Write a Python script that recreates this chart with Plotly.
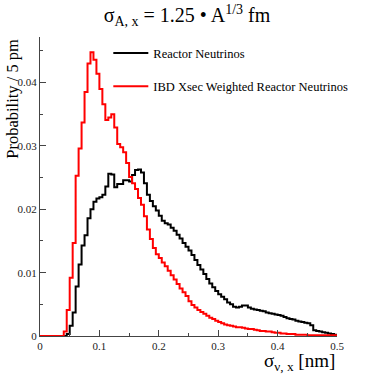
import plotly.graph_objects as go
import numpy as np

# histogram: 100 bins of 5 pm from 0 to 0.5 nm
bin_width = 0.005
n_bins = 100

reactor = [
    0, 0, 0, 0, 0, 0, 0, 0, 0, 0.0003,
    0.0016, 0.0037, 0.0078, 0.0113, 0.0143, 0.0159, 0.0186, 0.0200, 0.0212, 0.0217,
    0.0219, 0.0223, 0.0236, 0.0256, 0.0255, 0.0235, 0.0240, 0.0240, 0.0246, 0.0246,
    0.0244, 0.0254, 0.0262, 0.0263, 0.0258, 0.0241, 0.0223, 0.0213, 0.0205, 0.0198,
    0.0190, 0.0182, 0.0178, 0.0176, 0.0171, 0.0166, 0.0160, 0.0154, 0.0147, 0.0141,
    0.0135, 0.0128, 0.0120, 0.0112, 0.0105, 0.0098, 0.0090, 0.0083, 0.0077, 0.0071,
    0.0066, 0.0062, 0.0058, 0.0053, 0.0050, 0.0046, 0.0045, 0.0046, 0.0048, 0.0048,
    0.0045, 0.0043, 0.0042, 0.0041, 0.0040, 0.0039, 0.0037, 0.0036, 0.0035, 0.0034,
    0.0033, 0.0032, 0.0030, 0.0028, 0.0027, 0.0026, 0.0024, 0.0023, 0.0022, 0.0021,
    0.0020, 0.0017, 0.0009, 0.0008, 0.0007, 0.0006, 0.0005, 0.0004, 0.0003, 0.0002,
]

ibd_weighted = [
    0, 0, 0, 0, 0, 0, 0, 0, 0.0007, 0.0041,
    0.0092, 0.0147, 0.0253, 0.0296, 0.0337, 0.0385, 0.0430, 0.0448, 0.0436, 0.0414,
    0.0390, 0.0366, 0.0341, 0.0345, 0.0350, 0.0329, 0.0303, 0.0298, 0.0290, 0.0273,
    0.0251, 0.0241, 0.0232, 0.0218, 0.0207, 0.0189, 0.0168, 0.0153, 0.0139, 0.0129,
    0.0123, 0.0116, 0.0110, 0.0103, 0.0096, 0.0089, 0.0082, 0.0075, 0.0069, 0.0063,
    0.0055, 0.0049, 0.0045, 0.0041, 0.0038, 0.0035, 0.0032, 0.0029, 0.0027, 0.0024,
    0.0022, 0.0020, 0.0018, 0.0017, 0.0016, 0.0015, 0.0014, 0.0014, 0.0013, 0.0012,
    0.0011, 0.0011, 0.0010, 0.0009, 0.0008, 0.0008, 0.0007, 0.0007, 0.0006, 0.0005,
    0.0005, 0.0004, 0.0004, 0.0003, 0.0003, 0.0003, 0.0002, 0.0002, 0.0002, 0.0002,
    0.0001, 0.0001, 0.0001, 0.0001, 0.0001, 0.0001, 0.0001, 0.0001, 0.0001, 0.0001,
]

series_names = ["Reactor Neutrinos", "IBD Xsec Weighted Reactor Neutrinos"]
series_colors = ["black", "red"]

edges = np.round(np.arange(n_bins + 1) * bin_width, 4)

SERIF = "Liberation Serif"

fig = go.Figure()
for name, vals, col in zip(series_names, [reactor, ibd_weighted], series_colors):
    fig.add_trace(go.Scatter(
        x=edges, y=list(vals) + [vals[-1]],
        mode="lines", line=dict(color=col, width=2, shape="hv"),
        name=name, legendgroup=name,
    ))

axis_common = dict(
    showline=True, linecolor="#444", linewidth=1, mirror=False,
    showgrid=False, zeroline=False,
    ticks="inside", ticklen=6, tickcolor="#444",
    tickfont=dict(family=SERIF, size=11, color="#222"),
)

fig.update_xaxes(range=[0, 0.5], dtick=0.1, tick0=0,
                 minor=dict(dtick=0.05, ticks="inside", ticklen=3, tickcolor="#444"),
                 **axis_common)
fig.update_yaxes(range=[0, 0.0472], dtick=0.01, tick0=0,
                 minor=dict(dtick=0.005, ticks="inside", ticklen=3, tickcolor="#444"),
                 **axis_common)

fig.update_layout(
    width=374, height=374,
    margin=dict(l=40, r=37, t=37, b=38),
    font=dict(family=SERIF, color="black"),
    paper_bgcolor="white", plot_bgcolor="white",
    title=dict(text="σ<sub>A, x</sub> = 1.25 • A<sup>1/3</sup> fm",
               x=0.5, xref="container", y=0.96, yref="container", yanchor="middle",
               font=dict(family=SERIF, size=20, color="black")),
    legend=dict(x=0.23, y=0.995, xanchor="left", yanchor="top",
                bgcolor="rgba(0,0,0,0)", tracegroupgap=14, itemwidth=35,
                font=dict(family=SERIF, size=12.5, color="black")),
    annotations=[
        dict(text="σ<sub>ν, x</sub> [nm]", xref="paper", yref="paper",
             x=1.0, y=-0.04, xanchor="right", yanchor="top", showarrow=False,
             font=dict(family=SERIF, size=19, color="black")),
        dict(text="Probability / 5 pm", xref="paper", yref="paper",
             x=-0.095, y=1.0, xanchor="center", yanchor="top", textangle=-90,
             showarrow=False, font=dict(family=SERIF, size=16.5, color="black")),
    ],
)

fig.write_html("out.html", config={"displayModeBar": False},
               post_script="document.body.style.margin='0';")
